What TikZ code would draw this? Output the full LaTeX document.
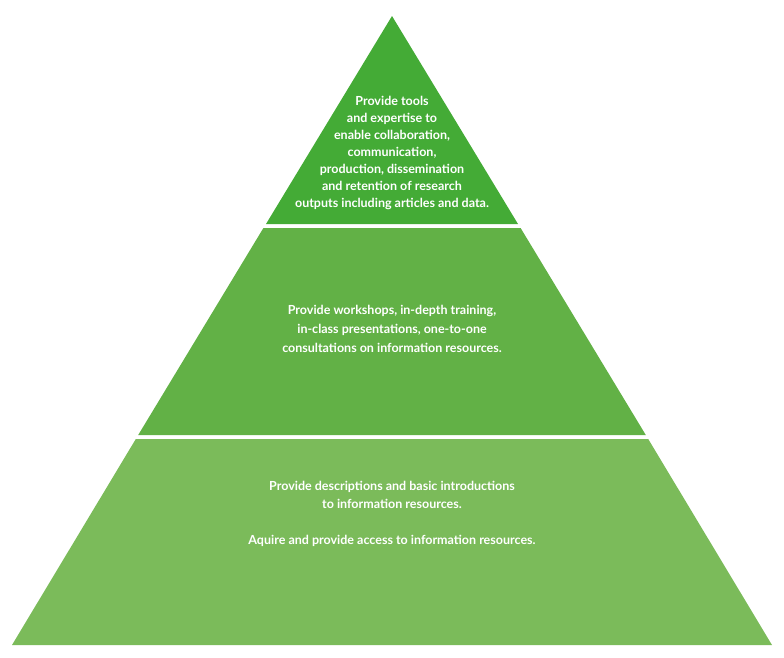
\documentclass[tikz,border=0pt]{standalone}
\usepackage{fontspec}
\setmainfont{Lato}
\definecolor{gA}{HTML}{44AB36}
\definecolor{gB}{HTML}{62B146}
\definecolor{gC}{HTML}{7BBB5A}
\begin{document}
\begin{tikzpicture}[x=1pt,y=-1pt,
  tier/.style={draw=none},
  lbl/.style={text=white,align=center,font=\fontsize{12.5}{17}\selectfont\bfseries}]
\useasboundingbox (0,0) rectangle (784,657);
\fill[gA] (392,16) -- (518,224) -- (266,224) -- cycle;
\fill[gB] (263.4,228) -- (520.6,228) -- (645.8,435) -- (138.2,435) -- cycle;
\fill[gC] (135.8,439) -- (648.2,439) -- (772,645) -- (12,645) -- cycle;
\node[lbl] (t1) at (392,153) {Provide tools\\and expertise to\\enable collaboration,\\communication,\\production, dissemination\\and retention of research\\outputs including articles and data.};
\node[lbl,font=\fontsize{12.5}{19}\selectfont\bfseries] (t2) at (392,329) {Provide workshops, in-depth training,\\in-class presentations, one-to-one\\consultations on information resources.};
\node[lbl,font=\fontsize{12.5}{18}\selectfont\bfseries] (t3) at (392,514) {Provide descriptions and basic introductions\\to information resources.\\[18pt]Aquire and provide access to information resources.};
\end{tikzpicture}
\end{document}
